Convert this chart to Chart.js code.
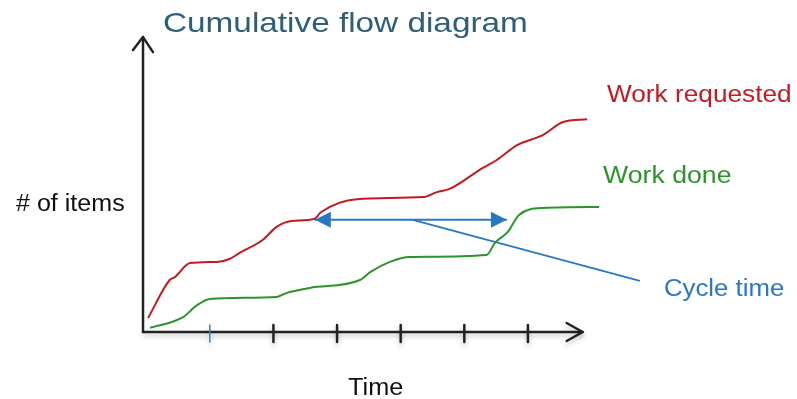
<!DOCTYPE html>
<html><head><meta charset="utf-8">
<script src="https://cdn.jsdelivr.net/npm/chart.js@4.4.1/dist/chart.umd.min.js"></script>
<style>html,body{margin:0;padding:0;background:#fff;}#wrap{width:797px;height:399px;position:relative;}</style>
</head><body><div id="wrap"><canvas id="c" width="797" height="399"></canvas></div>
<script>
// Work requested (time, items)
const requestedX = [0.03,0.37,0.45,0.69,1.11,1.31,1.47,1.83,2.05,2.28,2.64,2.75,3.31,4.35,4.57,4.77,5.29,5.51,5.83,6.24,6.55,6.93];
const requestedY = [4.8,17.8,18.8,23.6,24.0,25.0,27.1,31.5,36.0,38.0,38.7,41.1,45.5,46.2,47.9,49.0,56.2,58.9,64.0,67.5,71.9,72.9];
// Work done
const doneX = [0.06,0.58,0.80,1.00,2.05,2.21,2.57,3.36,3.52,3.83,4.14,5.35,5.48,5.68,5.86,6.24,7.12];
const doneY = [1.4,5.1,9.2,11.3,12.0,13.4,15.1,17.8,20.5,24.0,25.7,26.4,30.5,34.2,40.1,42.5,42.8];
// Cycle time arrow and pointer line
const cycleX = [2.65,5.67];
const cycleY = [38.4,38.4];
const pointerX = [4.19,7.76];
const pointerY = [38.4,17.5];
// Time ticks
const timeTicks = [1,2,3,4,5,6];
const tickColors = ['#3f86ad','#222','#222','#222','#222','#222'];
const axisEnd = {x:6.86, y:101};

const toPts = (xs,ys)=>xs.map((x,i)=>({x:x,y:ys[i]}));
const RED='#c41a22', GREEN='#2a962a', BLUE='#2a78c4', TITLE='#2d5f78';

function txt(ctx,s,x,y,sx){ctx.save();ctx.translate(x,y);ctx.scale(sx,1);ctx.fillText(s,0,0);ctx.restore();}

const decor = {
  id:'decor',
  beforeDatasetsDraw(chart){
    const {ctx, scales:{x,y}} = chart;
    const ox = x.getPixelForValue(-0.05), oy = y.getPixelForValue(0);
    const xe = x.getPixelForValue(axisEnd.x), ye = y.getPixelForValue(axisEnd.y);
    ctx.save();
    ctx.lineCap='round'; ctx.lineJoin='round';
    ctx.shadowColor='rgba(0,0,0,0.25)'; ctx.shadowBlur=5; ctx.shadowOffsetY=3;
    ctx.strokeStyle='#222'; ctx.lineWidth=2.5;
    ctx.beginPath(); ctx.moveTo(ox,oy); ctx.lineTo(xe,oy); ctx.stroke();
    ctx.beginPath(); ctx.moveTo(xe-16,oy-9); ctx.lineTo(xe,oy); ctx.lineTo(xe-16,oy+9); ctx.stroke();
    timeTicks.forEach((t,i)=>{
      const px = x.getPixelForValue(t);
      ctx.strokeStyle=tickColors[i]; ctx.lineWidth = i===0?1.5:2.5;
      ctx.beginPath(); ctx.moveTo(px,oy-7); ctx.lineTo(px,oy+10); ctx.stroke();
    });
    ctx.shadowColor='transparent';
    ctx.strokeStyle='#222'; ctx.lineWidth=2.5;
    ctx.beginPath(); ctx.moveTo(ox,oy); ctx.lineTo(ox,ye); ctx.stroke();
    ctx.beginPath(); ctx.moveTo(ox-10,ye+13); ctx.lineTo(ox,ye); ctx.lineTo(ox+10,ye+15); ctx.stroke();
    ctx.restore();
  },
  afterDatasetsDraw(chart){
    const {ctx} = chart;
    const meta = chart.getDatasetMeta(2);
    const p0 = meta.data[0], p1 = meta.data[meta.data.length-1];
    ctx.save();
    ctx.fillStyle=BLUE;
    ctx.beginPath(); ctx.moveTo(p0.x,p0.y); ctx.lineTo(p0.x+16,p0.y-8); ctx.lineTo(p0.x+16,p0.y+8); ctx.closePath(); ctx.fill();
    ctx.beginPath(); ctx.moveTo(p1.x,p1.y); ctx.lineTo(p1.x-16,p1.y-8); ctx.lineTo(p1.x-16,p1.y+8); ctx.closePath(); ctx.fill();
    ctx.textBaseline='alphabetic'; ctx.textAlign='left';
    ctx.font='28px "Liberation Sans", Arial, sans-serif';
    ctx.fillStyle=TITLE; txt(ctx,'Cumulative flow diagram',163,32,1.19);
    ctx.font='23px "Liberation Sans", Arial, sans-serif';
    ctx.fillStyle=RED; txt(ctx,'Work requested',607,102,1.14);
    ctx.fillStyle=GREEN; txt(ctx,'Work done',603,183,1.16);
    ctx.fillStyle=BLUE; txt(ctx,'Cycle time',664,296,1.12);
    ctx.fillStyle='#111'; txt(ctx,'# of items',16,211,1.09);
    txt(ctx,'Time',348,395,1.1);
    ctx.restore();
  }
};

new Chart(document.getElementById('c'),{
  type:'line',
  data:{datasets:[
    {label:'Work requested',data:toPts(requestedX,requestedY),borderColor:RED,borderWidth:2,pointRadius:0,cubicInterpolationMode:'monotone',fill:false},
    {label:'Work done',data:toPts(doneX,doneY),borderColor:GREEN,borderWidth:2,pointRadius:0,cubicInterpolationMode:'monotone',fill:false},
    {label:'Cycle time',data:toPts(cycleX,cycleY),borderColor:BLUE,borderWidth:2,pointRadius:0,tension:0,fill:false},
    {label:'Cycle pointer',data:toPts(pointerX,pointerY),borderColor:BLUE,borderWidth:1.8,pointRadius:0,tension:0,fill:false}
  ]},
  options:{
    responsive:false, animation:false, devicePixelRatio:1,
    layout:{padding:{left:143,right:141.8,top:40,bottom:67}},
    scales:{
      x:{type:'linear',min:-0.05,max:8,display:false},
      y:{type:'linear',min:0,max:100,display:false}
    },
    plugins:{legend:{display:false},tooltip:{enabled:false},title:{display:false}}
  },
  plugins:[decor]
});
</script></body></html>
